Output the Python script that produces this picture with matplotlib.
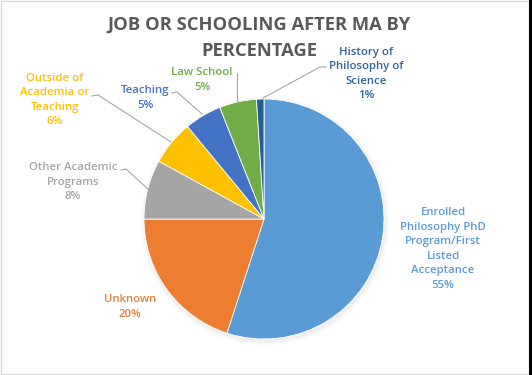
import matplotlib.pyplot as plt
from matplotlib.patches import Rectangle, Circle

# Data (clockwise from 12 o'clock, Excel style)
categories = [
    "Enrolled\nPhilosophy PhD\nProgram/First\nListed\nAcceptance",
    "Unknown",
    "Other Academic\nPrograms",
    "Outside of\nAcademia or\nTeaching",
    "Teaching",
    "Law School",
    "History of\nPhilosophy of\nScience",
]
percentages = [55, 20, 8, 6, 5, 5, 1]
colors = ["#5B9BD5", "#ED7D31", "#A5A5A5", "#FFC000", "#4472C4", "#70AD47", "#255E91"]
label_colors = ["#5B9BD5", "#E0803A", "#A5A5A5", "#FFC000", "#4472C4", "#70AD47", "#2E6396"]
title_lines = ["JOB OR SCHOOLING AFTER MA BY", "PERCENTAGE"]

# label anchor (pixel coords from top-left), leader line points (pixels)
label_pos = [(443, 249), (130, 307), (73, 182), (55, 100), (145, 98), (202, 80), (366, 74)]
leaders = [
    None,
    None,
    [(121, 170), (126, 169), (149, 190)],
    [(92, 96), (98, 95), (171, 142)],
    [(172, 93), (177, 92), (202, 114)],
    [(237, 73), (237, 101)],
    [(326, 67), (320, 67), (263, 98)],
]

W, H = 532, 375
CX, CY, R = 264, 219, 120

fig = plt.figure(figsize=(W / 100, H / 100), dpi=100)
ax = fig.add_axes([0, 0, 1, 1])

font = ["Open Sans", "DejaVu Sans"]

# soft shadow under the pie
for i, a in enumerate([0.05, 0.04, 0.03]):
    ax.add_patch(Circle((CX + 1, H - CY - 2), R + 1.5 + i * 1.5, color="#808080", alpha=a, lw=0, zorder=1))

ax.pie(percentages, colors=colors, startangle=90, counterclock=False,
       center=(CX, H - CY), radius=R, frame=True,
       wedgeprops=dict(edgecolor="white", linewidth=0.6, zorder=2))
ax.set_xlim(0, W)
ax.set_ylim(0, H)
ax.set_aspect("auto")
ax.axis("off")

for name, pct, col, (lx, ly), ld in zip(categories, percentages, label_colors, label_pos, leaders):
    ax.text(lx, H - ly, f"{name}\n{pct}%", ha="center", va="center", color=col,
            fontsize=8.2, fontweight="semibold", family=font, linespacing=1.45, zorder=5)
    if ld:
        xs = [p[0] for p in ld]
        ys = [H - p[1] for p in ld]
        ax.plot(xs, ys, color="#A6A6A6", lw=0.8, zorder=4)

for line, ty in zip(title_lines, [25, 51]):
    ax.text(259, H - ty, line, ha="center", va="center", color="#595959",
            fontsize=13.2, fontweight="bold", family=font)

# frame and right edge strip
ax.add_patch(Rectangle((0.5, 1.5), 528, 372.5, fill=False, edgecolor="#D9D9D9", lw=1, zorder=6))
ax.add_patch(Rectangle((529, 0), 3, H, color="black", lw=0, zorder=6))

fig.savefig("out.png", dpi=100)
